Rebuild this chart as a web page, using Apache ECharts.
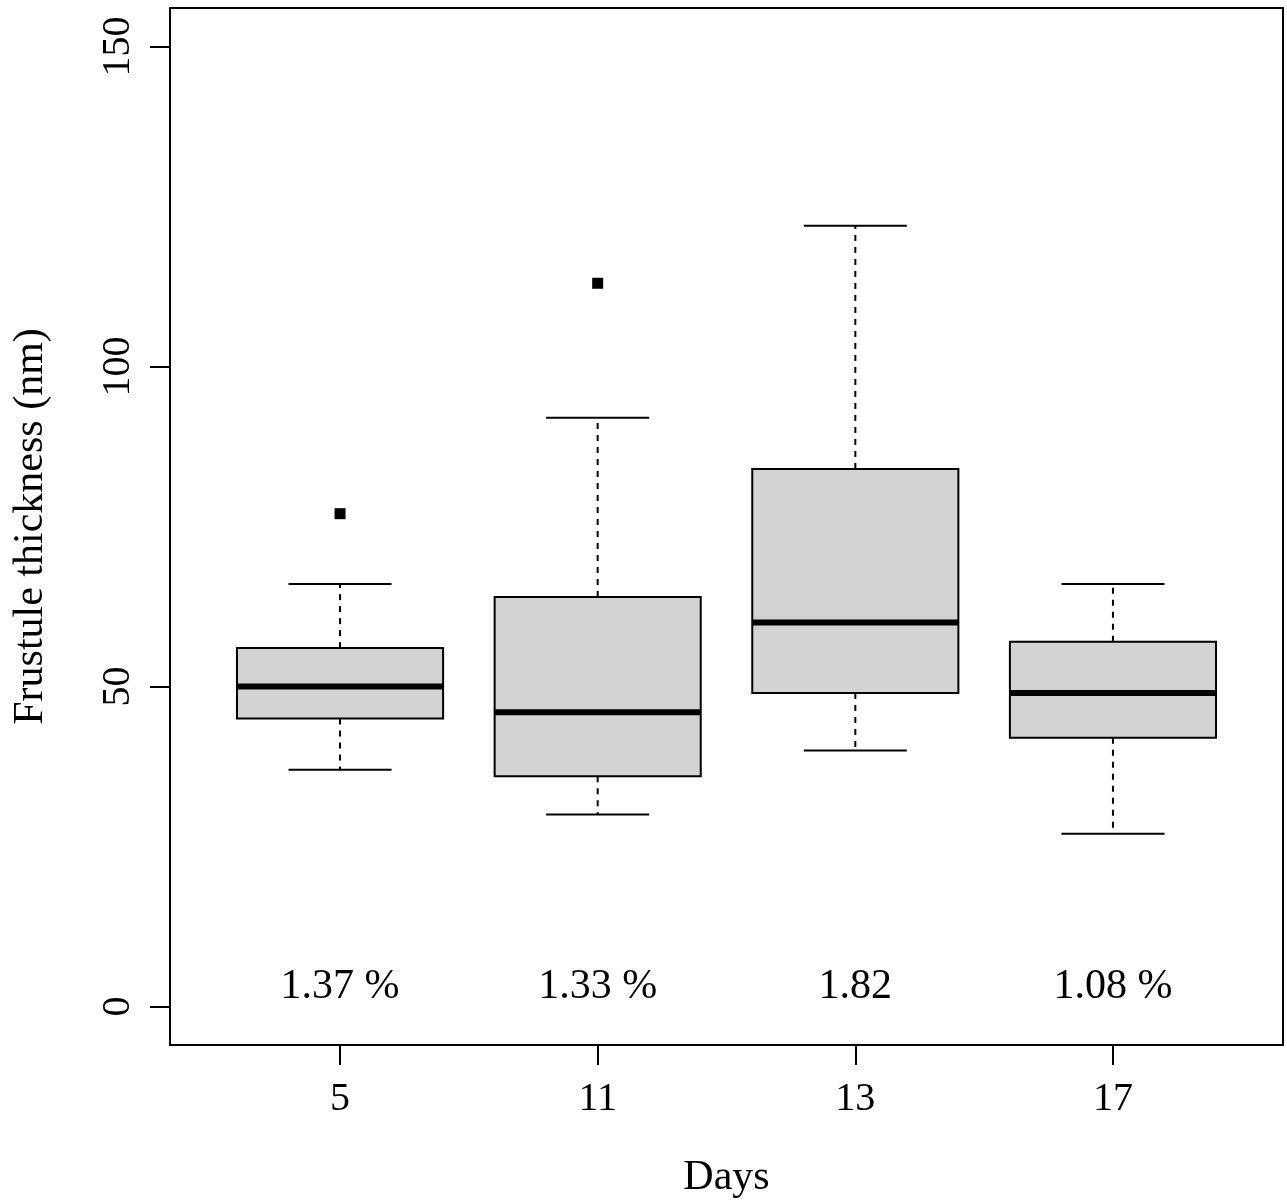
<!DOCTYPE html>
<html>
<head>
<meta charset="utf-8">
<script src="https://cdn.jsdelivr.net/npm/echarts@6/dist/echarts.min.js"></script>
<style>html,body{margin:0;background:#fff}#c{width:1287px;height:1200px}</style>
</head>
<body>
<div id="c"></div>
<script>
var days = ['5', '11', '13', '17'];
// [low whisker, Q1, median, Q3, high whisker]
var stats = [
    [37, 45, 50, 56, 66],
    [30, 36, 46, 64, 92],
    [40, 49, 60, 84, 122],
    [27, 42, 49, 57, 66]
];
var outliers = [[1, 77], [2, 113]];
var notes = ['1.37 %', '1.33 %', '1.82', '1.08 %'];
var yTicks = [0, 50, 100, 150];

var font = 'Liberation Serif, Times New Roman, serif';
var chart = echarts.init(document.getElementById('c'));

var boxData = stats.map(function(s, i) { return [i + 1].concat(s); });

chart.setOption({
    animation: false,
    grid: { left: 170, right: 4, top: 8, bottom: 155, outerBoundsMode: 'none', containLabel: false,
        show: true, borderColor: '#000', borderWidth: 2 },
    xAxis: {
        type: 'value', min: 0.34, max: 4.66,
        name: 'Days', nameLocation: 'middle', nameGap: 112,
        nameTextStyle: { fontFamily: font, fontSize: 42, color: '#000' },
        axisLine: { show: false, onZero: false }, splitLine: { show: false },
        axisTick: { show: true, length: 20, inside: false, lineStyle: { color: '#000', width: 2 }, customValues: [1, 2, 3, 4] },
        axisLabel: { margin: 34, fontFamily: font, fontSize: 40, color: '#000', customValues: [1, 2, 3, 4],
            formatter: function(v) { return days[Math.round(v) - 1]; } }
    },
    yAxis: {
        type: 'value', min: -6, max: 156,
        name: 'Frustule thickness (nm)', nameLocation: 'middle', nameGap: 118,
        nameTextStyle: { fontFamily: font, fontSize: 42, color: '#000' },
        axisLine: { show: false, onZero: false }, splitLine: { show: false },
        axisTick: { show: true, length: 20, lineStyle: { color: '#000', width: 2 }, customValues: yTicks },
        axisLabel: { rotate: 90, margin: 32, fontFamily: font, fontSize: 40, color: '#000', customValues: yTicks }
    },
    series: [{
        type: 'custom',
        data: boxData,
        renderItem: function(params, api) {
            var x = api.value(0);
            var p = function(dx, v) { return api.coord([x + dx, v]); };
            var lo = api.value(1), q1 = api.value(2), md = api.value(3), q3 = api.value(4), hi = api.value(5);
            var a = p(-0.4, q3), b = p(0.4, q1);
            var line = function(p1, p2, st) {
                return { type: 'line', shape: { x1: p1[0], y1: p1[1], x2: p2[0], y2: p2[1] }, style: st };
            };
            var solid = { stroke: '#000', lineWidth: 2 };
            var dash = { stroke: '#000', lineWidth: 2, lineDash: [6, 6] };
            return { type: 'group', children: [
                line(p(0, q3), p(0, hi), dash),
                line(p(0, q1), p(0, lo), dash),
                line(p(-0.2, hi), p(0.2, hi), solid),
                line(p(-0.2, lo), p(0.2, lo), solid),
                { type: 'rect', shape: { x: a[0], y: a[1], width: b[0] - a[0], height: b[1] - a[1] },
                  style: { fill: '#d3d3d3', stroke: '#000', lineWidth: 2 } },
                line(p(-0.4, md), p(0.4, md), { stroke: '#000', lineWidth: 6 })
            ] };
        }
    }, {
        type: 'scatter', data: outliers, symbol: 'rect', symbolSize: 11,
        itemStyle: { color: '#000', opacity: 1 }
    }, {
        type: 'custom',
        data: notes.map(function(n, i) { return [i + 1, 3, n]; }),
        renderItem: function(params, api) {
            var c = api.coord([api.value(0), api.value(1)]);
            return { type: 'text', x: c[0], y: c[1],
                style: { text: notes[params.dataIndex], fontFamily: font, fontSize: 42, fill: '#000', align: 'center', verticalAlign: 'middle' } };
        }
    }]
});
</script>
</body>
</html>
